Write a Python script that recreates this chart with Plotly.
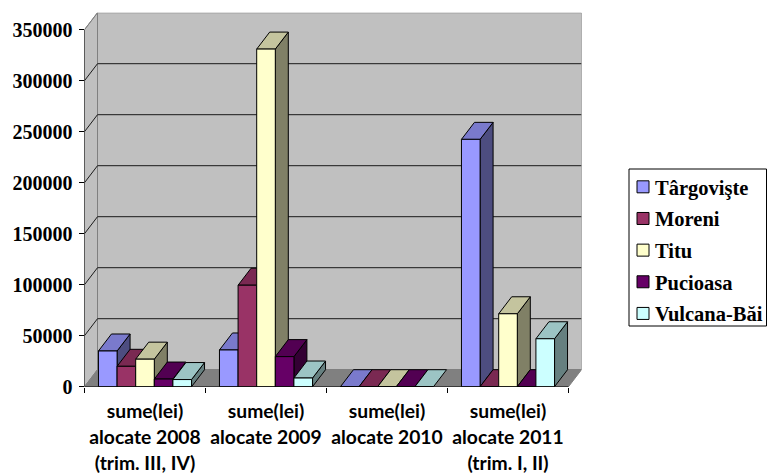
import plotly.graph_objects as go

# ---- data ----
categories = [
    ["sume(lei)", "alocate 2008", "(trim. III, IV)"],
    ["sume(lei)", "alocate 2009", ""],
    ["sume(lei)", "alocate 2010", ""],
    ["sume(lei)", "alocate 2011", "(trim. I, II)"],
]
series_names = ["Târgovişte", "Moreni", "Titu", "Pucioasa", "Vulcana-Băi"]
targoviste = [35000, 36000, 0, 242500]
moreni = [20000, 99500, 0, 0]
titu = [27000, 331000, 0, 71500]
pucioasa = [7500, 29500, 0, 0]
vulcana = [7000, 8500, 0, 47000]
y_ticks = [0, 50000, 100000, 150000, 200000, 250000, 300000, 350000]
front_colors = ["#9999FF", "#993366", "#FFFFCC", "#660066", "#CCFFFF"]
top_colors = ["#7A7ACC", "#7A2952", "#C4C49E", "#520052", "#9CC4C4"]
side_colors = ["#4D4D80", "#4D1A33", "#808066", "#330033", "#668080"]

series_values = [targoviste, moreni, titu, pucioasa, vulcana]

# ---- geometry ----
W, H = 769, 473
PLOT_L, PLOT_R, PLOT_T, PLOT_B = 84.5, 581.5, 12.7, 386.7
Y_MAX = y_ticks[-1]
N_CAT = len(categories)
PX_PER_CAT = 121.0
DX = 13.0 / PX_PER_CAT
DY = 17.0 * Y_MAX / 357.0
BAR_W = 1 / 6.5
LINE_SP_FONT = 20
LABEL_FONT = 19.3

fig = go.Figure()


def poly(xs, ys, fill, line, z, width=1):
    fig.add_trace(go.Scatter(
        x=xs, y=ys, mode="lines", fill="toself", fillcolor=fill,
        line=dict(color=line, width=width), hoverinfo="skip",
        showlegend=False, zorder=z))


def seg(xs, ys, color, z, width=1):
    fig.add_trace(go.Scatter(
        x=xs, y=ys, mode="lines", line=dict(color=color, width=width),
        hoverinfo="skip", showlegend=False, zorder=z))


# walls and floor
poly([DX, N_CAT + DX, N_CAT + DX, DX, DX], [DY, DY, Y_MAX + DY, Y_MAX + DY, DY], "#C0C0C0", "#707070", -3)
poly([0, DX, DX, 0, 0], [0, DY, Y_MAX + DY, Y_MAX, 0], "#C0C0C0", "#808080", -3)
poly([0, N_CAT, N_CAT + DX, DX, 0], [0, 0, DY, DY, 0], "#808080", "#808080", -2)

# gridlines: slant on the side wall, then along the back wall
for v in y_ticks[1:-1]:
    seg([0, DX, N_CAT + DX], [v, v + DY, v + DY], "#1a1a1a", -2)
seg([0, DX], [Y_MAX, Y_MAX + DY], "#808080", -2)

# bars, painted left to right so later faces overlap earlier ones
for s, (name, vals) in enumerate(zip(series_names, series_values)):
    z = 2 * s
    off = (s - 2.5) * BAR_W
    side_x, side_y, top_x, top_y = [], [], [], []
    for c, v in enumerate(vals):
        x0 = c + 0.5 + off
        x1 = x0 + BAR_W
        top_x += [x0, x1, x1 + DX, x0 + DX, x0, None]
        top_y += [v, v, v + DY, v + DY, v, None]
        if v > 0:
            side_x += [x1, x1 + DX, x1 + DX, x1, x1, None]
            side_y += [0, DY, v + DY, v, 0, None]
    if side_x:
        poly(side_x, side_y, side_colors[s], "#000000", z)
    poly(top_x, top_y, top_colors[s], "#000000", z)
    fig.add_trace(go.Bar(
        x=[c + 0.5 for c in range(N_CAT)], y=vals, name=name,
        width=BAR_W, offset=off,
        marker=dict(color=front_colors[s], line=dict(color="#000000", width=1)),
        legendgroup=name, cliponaxis=False, zorder=z + 1))

# front axis lines
seg([0, 0], [0, Y_MAX], "#000000", 20)
seg([0, N_CAT], [0, 0], "#000000", 20)

ticktext = ["<br>".join(f'<span style="font-size:{LABEL_FONT}px">{l}</span>' if l else " " for l in c)
            for c in categories]

fig.update_layout(
    width=W, height=H, autosize=False,
    margin=dict(l=0, r=0, t=0, b=0),
    paper_bgcolor="#FFFFFF", plot_bgcolor="rgba(0,0,0,0)",
    barmode="overlay",
    xaxis=dict(
        domain=[PLOT_L / W, PLOT_R / W], range=[0, N_CAT + DX],
        tickmode="array", tickvals=[c + 0.5 for c in range(N_CAT)], ticktext=ticktext,
        ticks="", showgrid=False, zeroline=False, showline=False, tickangle=0,
        ticklabelstandoff=10,
        tickfont=dict(family="Lato", size=LINE_SP_FONT, color="#000000", weight=700),
        minor=dict(tickmode="array", tickvals=list(range(N_CAT + 1)), ticks="outside",
                   ticklen=5, tickwidth=1, tickcolor="#000000", showgrid=False),
        automargin=False,
    ),
    yaxis=dict(
        domain=[(H - PLOT_B) / H, (H - PLOT_T) / H], range=[0, Y_MAX + DY],
        tickmode="array", tickvals=y_ticks, ticktext=[str(t) for t in y_ticks],
        ticks="outside", ticklen=5, tickwidth=1, tickcolor="#000000",
        showgrid=False, zeroline=False, showline=False, ticklabelstandoff=2,
        tickfont=dict(family="Liberation Serif", size=20, color="#000000", weight=700),
        automargin=False,
    ),
    legend=dict(
        x=623 / W, y=(H - 167) / H, xanchor="left", yanchor="top",
        bgcolor="rgba(0,0,0,0)", borderwidth=0, tracegroupgap=2, indentation=-8,
        font=dict(family="Liberation Serif", size=20.5, color="#000000", weight=700),
        traceorder="grouped", itemclick=False, itemdoubleclick=False,
    ),
    shapes=[dict(type="rect", xref="paper", yref="paper",
                 x0=629 / W, x1=766.5 / W, y0=(H - 326) / H, y1=(H - 169) / H,
                 line=dict(color="#000000", width=1), layer="below")],
    showlegend=True,
)

# the legend swatches sit closer to their text in the reference
post = """
document.body.style.margin='0';
document.querySelectorAll('.legendsymbols').forEach(function(g){
  g.setAttribute('transform','translate(8,0)');
});
"""
fig.write_html("out.html", config={"displayModeBar": False}, post_script=post)
